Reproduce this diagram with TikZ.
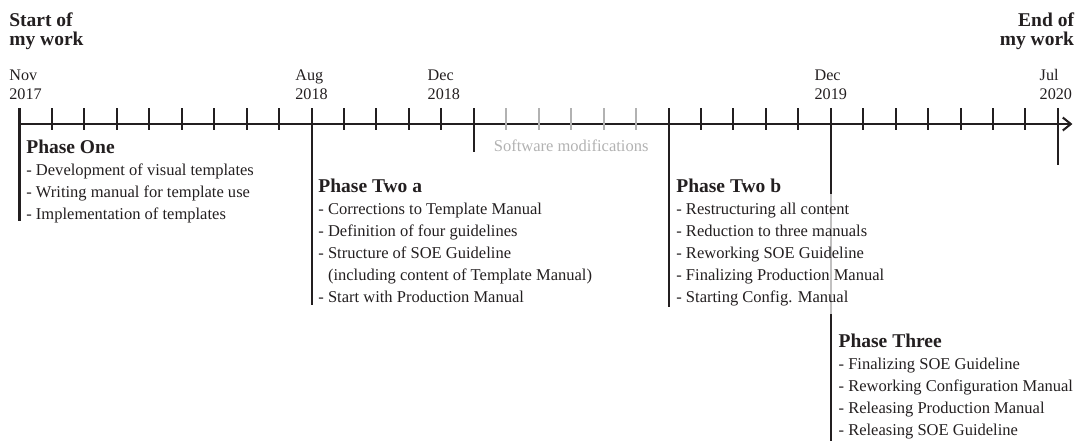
\documentclass[tikz,border=0pt]{standalone}
\usepackage{fontspec}
\setmainfont{Liberation Serif}
\usepackage{tikz}
\usetikzlibrary{arrows.meta, positioning, calc}
\definecolor{tldark}{RGB}{35, 31, 32}
\definecolor{tlgray}{RGB}{178, 178, 178}
\newcommand{\tlhead}{\fontsize{11.1}{10.3}\selectfont\bfseries}
\newcommand{\tldate}{\fontsize{9.2}{10.8}\selectfont}
\newcommand{\tllist}{\fontsize{9.4}{12.5}\selectfont}
\newcommand{\mw}{0.649}

\begin{document}
\begin{tikzpicture}[
  tick/.style={line width=1.15pt, draw=tldark},
  softtick/.style={line width=1.15pt, draw=tlgray},
  axis/.style={-{Straight Barb[length=1.6mm, width=2.6mm]}, line width=1.15pt, draw=tldark},
  datelabel/.style={font=\tldate, text=tldark, align=left, inner sep=0pt, anchor=base},
  milestone/.style={font=\tlhead, text=tldark, align=left, inner sep=0pt},
  phasehead/.style={font=\tlhead, text=tldark, inner sep=0pt, anchor=base west},
  phaselist/.style={font=\tllist, text=tldark, align=left, inner sep=0pt, anchor=base west},
]
  \useasboundingbox (-0.39,2.48) rectangle (21.27,-6.34);

  % months, Nov 2017 = m0 ... Jul 2020 = m32
  \foreach \i in {0,...,32} \coordinate (m\i) at (\i*\mw,0);

  % axis and month ticks
  \draw[axis] (m0) -- ($(m32)+(0.29,0)$);
  \foreach \i in {0,...,14} \draw[tick] ($(m\i)+(0,0.32)$) -- ($(m\i)+(0,-0.12)$);
  \foreach \i in {20,...,32} \draw[tick] ($(m\i)+(0,0.32)$) -- ($(m\i)+(0,-0.12)$);
  \foreach \i in {15,...,19} \draw[softtick] ($(m\i)+(0,0.32)$) -- ($(m\i)+(0,-0.12)$);

  % phase markers
  \draw[tick] ($(m0)+(0,0.32)$) -- ($(m0)+(0,-1.94)$);
  \draw[tick] ($(m9)+(0,0.32)$) -- ($(m9)+(0,-3.62)$);
  \draw[tick] ($(m14)+(0,0.32)$) -- ($(m14)+(0,-0.56)$);
  \draw[tick] ($(m20)+(0,0.32)$) -- ($(m20)+(0,-3.66)$);
  \draw[tick] ($(m25)+(0,0.32)$) -- ($(m25)+(0,-6.34)$);
  \draw[tick] ($(m32)+(0,0.32)$) -- ($(m32)+(0,-0.82)$);

  % start and end (base = last line)
  \node[milestone, anchor=base west] (start) at ($(m0)+(-0.21,1.58)$) {Start of\\my work};
  \node[milestone, anchor=base east, align=right] (end) at ($(m32)+(0.33,1.58)$) {End of\\my work};

  % dates
  \node[datelabel, anchor=base west] (nov17) at ($(m0)+(-0.21,0.50)$) {Nov\\2017};
  \node[datelabel] (aug18) at ($(m9)+(0,0.50)$) {Aug\\2018};
  \node[datelabel] (dec18) at ($(m13)+(0.05,0.50)$) {Dec\\2018};
  \node[datelabel] (dec19) at ($(m25)+(0,0.50)$) {Dec\\2019};
  \node[datelabel, anchor=base east] (jul20) at ($(m32)+(0.29,0.50)$) {Jul\\2020};

  \node[font=\tllist, text=tlgray, inner sep=0pt, anchor=base] (soft) at ($($(m14)!0.5!(m20)$)+(0,-0.54)$) {Software modifications};

  % Phase One
  \node[phasehead] (p1) at ($(m0)+(0.13,-0.58)$) {Phase One};
  \node[phaselist] (p1list) at ($(p1.base west)+(0,-1.32)$) {- Development of visual templates\\- Writing manual for template use\\- Implementation of templates};

  % Phase Two a
  \node[phasehead] (p2a) at ($(m9)+(0.13,-1.36)$) {Phase Two a};
  \node[phaselist] (p2alist) at ($(p2a.base west)+(0,-2.20)$) {- Corrections to Template Manual\\- Definition of four guidelines\\- Structure of SOE Guideline\\\hphantom{- }(including content of Template Manual)\\- Start with Production Manual};

  % Phase Two b
  \node[phasehead] (p2b) at ($(m20)+(0.15,-1.36)$) {Phase Two b};
  \node[phaselist, fill=white, fill opacity=0.72, text opacity=1, inner ysep=0.17cm] (p2blist) at ($(p2b.base west)+(0,-2.20)$) {- Restructuring all content\\- Reduction to three manuals\\- Reworking SOE Guideline\\- Finalizing Production Manual\\- Starting Config. Manual};

  % Phase Three
  \node[phasehead] (p3) at ($(m25)+(0.15,-4.46)$) {Phase Three};
  \node[phaselist] (p3list) at ($(p3.base west)+(0,-1.76)$) {- Finalizing SOE Guideline\\- Reworking Configuration Manual\\- Releasing Production Manual\\- Releasing SOE Guideline};
\end{tikzpicture}
\end{document}
